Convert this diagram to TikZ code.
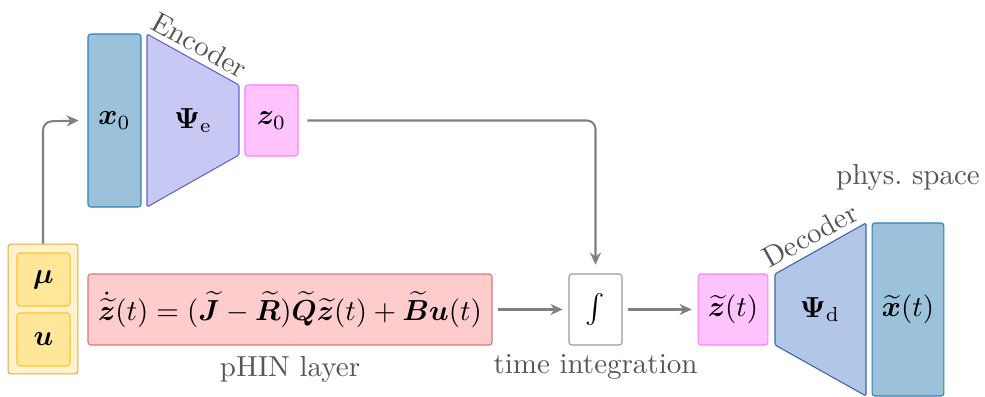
\documentclass[tikz,border=0pt]{standalone}
\usepackage{amsmath}
\usepackage{bm}
\usetikzlibrary{arrows.meta}

\definecolor{physblue}{RGB}{155,194,218}
\definecolor{physborder}{RGB}{50,130,185}
\definecolor{encfill}{RGB}{200,200,245}
\definecolor{encborder}{RGB}{100,100,200}
\definecolor{decfill}{RGB}{178,198,232}
\definecolor{decborder}{RGB}{60,100,170}
\definecolor{latfill}{RGB}{255,196,255}
\definecolor{latborder}{RGB}{255,125,255}
\definecolor{parfill}{RGB}{255,230,153}
\definecolor{parborder}{RGB}{255,196,40}
\definecolor{grpfill}{RGB}{255,242,204}
\definecolor{grpborder}{RGB}{220,175,60}
\definecolor{phinfill}{RGB}{255,204,206}
\definecolor{phinborder}{RGB}{220,120,120}
\definecolor{labelgray}{RGB}{85,85,85}

\tikzset{
	box/.style={draw, rounded corners=1pt, inner sep=0pt, line width=0.37pt},
	physbox/.style={box, fill=physblue, draw=physborder, minimum width=18.3pt, minimum height=59.7pt},
	latbox/.style={box, fill=latfill, draw=latborder, minimum height=24.5pt},
	parbox/.style={box, fill=parfill, draw=parborder, minimum width=18.3pt, minimum height=18.3pt},
	flow/.style={draw=gray, line width=0.7pt, -{Stealth[length=4.2pt,width=3.8pt]}, rounded corners=3pt},
	caption/.style={text=labelgray}
}

\begin{document}
\begin{tikzpicture}[x=0.345pt, y=-0.345pt]
	\useasboundingbox (0,0) rectangle (985,397);

	% encoder side
	\node[physbox] (x0) at (114.5,120.5) {$\bm{x}_0$};
	\draw[fill=encfill, draw=encborder, line width=0.37pt, rounded corners=0.5pt]
		(147,34) -- (239,85) -- (239,155) -- (147,207) -- cycle;
	\node (psie) at (193,120.5) {$\bm{\Psi}_{\mathrm{e}}$};
	\node[caption, rotate=-29] (enc) at (200,45) {Encoder};
	\node[latbox, minimum width=18.3pt] (z0) at (271.5,120.5) {$\bm{z}_0$};

	% parameters and inputs
	\coordinate (mupos) at (43.5,279.5);
	\coordinate (upos) at (43.5,339.5);
	\node[box, fill=grpfill, draw=grpborder, minimum width=24.1pt, minimum height=44.8pt] (grp) at (43,309) {};
	\node[parbox] (mu) at (mupos) {$\bm{\mu}$};
	\node[parbox] (u) at (upos) {$\bm{u}$};

	% pHIN layer and time integration
	\node[box, fill=phinfill, draw=phinborder, minimum width=139.4pt, minimum height=24.5pt] (phin) at (290,309.5)
		{$\dot{\widetilde{\bm{z}}}(t) = (\widetilde{\bm{J}} - \widetilde{\bm{R}})\widetilde{\bm{Q}}\widetilde{\bm{z}}(t) + \widetilde{\bm{B}}\bm{u}(t)$};
	\node[caption] at (290,369) {pHIN layer};
	\node[box, fill=white, draw=gray!80, minimum width=18.3pt, minimum height=24.5pt] (int) at (595.5,309.5) {$\int$};
	\node[caption] at (595.5,367) {time integration};

	% decoder side
	\node[latbox, minimum width=24.1pt] (zt) at (733,309.5) {$\widetilde{\bm{z}}(t)$};
	\draw[fill=decfill, draw=decborder, line width=0.37pt, rounded corners=0.5pt]
		(775,274) -- (866,223) -- (866,396) -- (775,345) -- cycle;
	\node (psid) at (820,309.5) {$\bm{\Psi}_{\mathrm{d}}$};
	\node[caption, rotate=29] (dec) at (810,235) {Decoder};
	\node[physbox, minimum width=24.8pt] (xt) at (908,309.5) {$\widetilde{\bm{x}}(t)$};
	\node[caption] at (908,177) {phys.\ space};

	% connectors
	\draw[flow] (grp.north) -- ++(0,-122) -- ([xshift=-3pt]x0.west);
	\draw[flow] ([xshift=3pt]z0.east) -| ([yshift=3pt]int.north);
	\draw[flow] ([xshift=2pt]phin.east) -- ([xshift=-2pt]int.west);
	\draw[flow] ([xshift=2pt]int.east) -- ([xshift=-2pt]zt.west);
\end{tikzpicture}
\end{document}
